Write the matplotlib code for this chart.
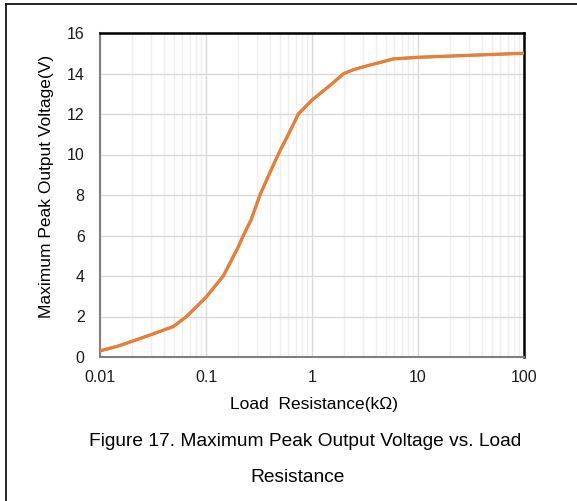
import matplotlib
matplotlib.use("Agg")
import matplotlib.pyplot as plt
from matplotlib.lines import Line2D
from matplotlib.ticker import LogLocator, FixedLocator, NullFormatter

plt.rcParams['font.family'] = ['Liberation Sans', 'DejaVu Sans']

# Load resistance (kOhm) and maximum peak output voltage (V)
load_kohm = [0.01, 0.015, 0.0257, 0.049, 0.0656, 0.1, 0.1455, 0.2, 0.225,
             0.266, 0.323, 0.4, 0.5, 0.6, 0.743, 1.0, 1.43, 2.0, 2.5,
             3.52, 4.07, 5.85, 10.0, 100.0]
vout_a = [0.3, 0.55, 0.97, 1.5, 2.0, 2.95, 4.0, 5.4, 6.0,
          6.77, 8.0, 9.1, 10.2, 11.0, 12.0, 12.69, 13.35, 14.0, 14.2,
          14.42, 14.5, 14.72, 14.8, 15.0]
vout_b = vout_a

x_ticks = [0.01, 0.1, 1, 10, 100]
x_tick_labels = ["0.01", "0.1", "1", "10", "100"]
y_ticks = [0, 2, 4, 6, 8, 10, 12, 14, 16]

fig = plt.figure(figsize=(5.77, 5.01), dpi=100)
ax = fig.add_axes([100/577, 1-357/501, 424/577, 324/501])

ax.plot(load_kohm, vout_b, color="#5B9BD5", lw=2.0, zorder=3)
ax.plot(load_kohm, vout_a, color="#ED7D31", lw=2.3, zorder=4,
        solid_joinstyle="round")

ax.set_xscale("log")
ax.set_xlim(0.01, 100)
ax.set_ylim(0, 16)
ax.xaxis.set_major_locator(FixedLocator(x_ticks))
ax.set_xticklabels(x_tick_labels)
ax.xaxis.set_minor_locator(LogLocator(base=10, subs=range(2, 10)))
ax.xaxis.set_minor_formatter(NullFormatter())
ax.set_yticks(y_ticks)

ax.grid(which="major", color="#d9d9d9", lw=1.0, zorder=0)
ax.grid(which="minor", axis="x", color="#eeeeee", lw=1.0, zorder=0)
ax.tick_params(which="both", length=0, labelsize=11.5, colors="#1a1a1a")
ax.tick_params(axis="x", pad=9)
ax.tick_params(axis="y", pad=11)

for s in ("top", "right"):
    ax.spines[s].set_color("black")
    ax.spines[s].set_linewidth(1.8)
for s in ("left", "bottom"):
    ax.spines[s].set_color("#808080")
    ax.spines[s].set_linewidth(1.5)

ax.set_xlabel("Load  Resistance(k\u03a9)", fontsize=12.5)
ax.set_ylabel("Maximum Peak Output Voltage(V)", fontsize=12.5)
ax.xaxis.label.set_va("center")
ax.yaxis.label.set_va("center")
ax.xaxis.set_label_coords((314-100)/424, -(405-357)/324)
ax.yaxis.set_label_coords(-(100-47)/424, (357-186)/324)

fig.text(305/577, 1-442/501, "Figure 17. Maximum Peak Output Voltage vs. Load",
         ha="center", va="center", fontsize=13.8)
fig.text(298/577, 1-478/501, "Resistance", ha="center", va="center",
         fontsize=13.8)

# cell border lines
fig.add_artist(Line2D([6/577, 1], [1-4/501, 1-4/501], color="black", lw=1.2,
                      transform=fig.transFigure))
fig.add_artist(Line2D([6/577, 6/577], [0, 1-4/501], color="black", lw=1.2,
                      transform=fig.transFigure))

fig.savefig("out.png", dpi=100)
